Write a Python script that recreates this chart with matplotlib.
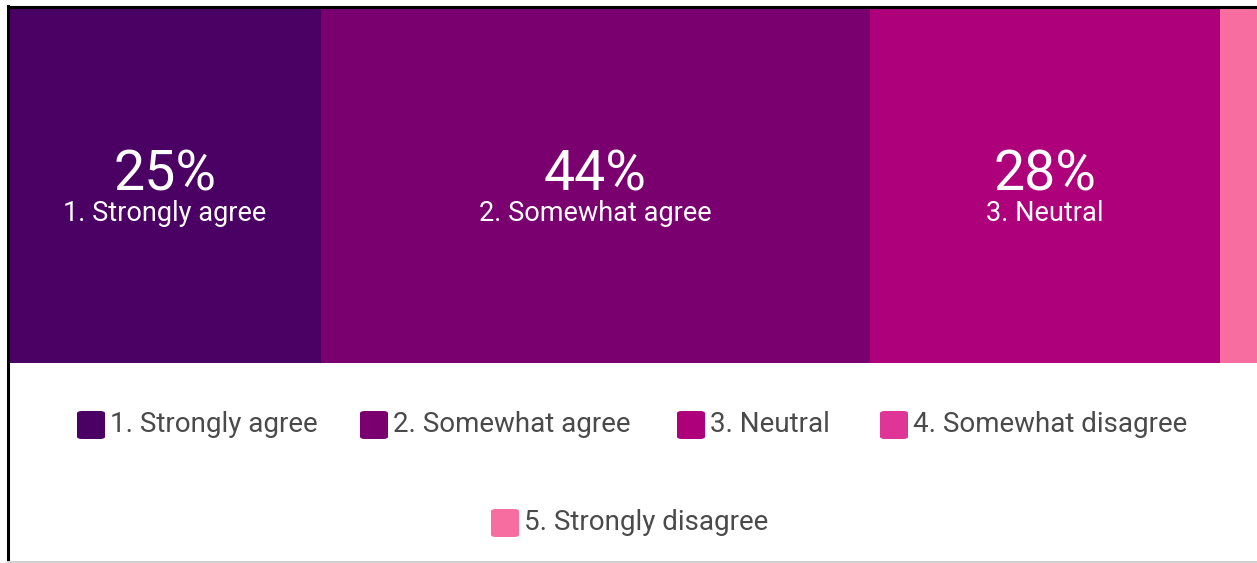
import matplotlib
matplotlib.use("Agg")
import matplotlib.pyplot as plt
from matplotlib.patches import FancyBboxPatch
from matplotlib.lines import Line2D

plt.rcParams['font.family'] = ['Roboto', 'DejaVu Sans']

# Survey response shares (percent)
categories = ["1. Strongly agree", "2. Somewhat agree", "3. Neutral",
              "4. Somewhat disagree", "5. Strongly disagree"]
values = [25, 44, 28, 0, 3]
colors = ["#4b0063", "#7a006f", "#ae007a", "#de3596", "#f76d9f"]

W, H = 1257, 563
fig = plt.figure(figsize=(W / 100, H / 100), dpi=100)
fig.patch.set_facecolor("white")


def fx(px):
    return px / W


def fy(py):
    return 1 - py / H


# stacked 100% bar
ax = fig.add_axes([fx(9), fy(363), fx(1257 - 9), (363 - 8) / H])
ax.set_xlim(0, 100)
ax.set_ylim(0, 1)
ax.axis("off")
left = 0
for cat, v, c in zip(categories, values, colors):
    ax.barh(0.5, v, left=left, height=1.0, color=c, edgecolor="none")
    if v >= 10:
        cx = left + v / 2
        ax.text(cx, 0.487, f"{v}%", ha="center", va="baseline",
                color="white", fontsize=40)
        ax.text(cx, 0.399, cat, ha="center", va="baseline",
                color="white", fontsize=19.5)
    left += v

# legend laid out in two centered rows
legend_rows = [
    [(0, 77), (1, 360), (2, 677), (3, 880)],
    [(4, 491)],
]
row_y = [425, 523]
sq = 28
for row, yc in zip(legend_rows, row_y):
    for idx, x0 in row:
        fig.patches.append(FancyBboxPatch(
            (fx(x0), fy(yc + sq / 2)), fx(sq), sq / H,
            boxstyle="round,pad=0,rounding_size=0.004",
            transform=fig.transFigure, facecolor=colors[idx],
            edgecolor="none"))
        fig.text(fx(x0 + sq + 5), fy(yc), categories[idx], ha="left",
                 va="center", color="#4a4a4a", fontsize=20)

# frame lines around the panel
fig.add_artist(Line2D([fx(8), fx(8)], [fy(6), fy(H)], color="black",
                      lw=2.2, transform=fig.transFigure))
fig.add_artist(Line2D([fx(8), fx(W)], [fy(6.5), fy(6.5)], color="black",
                      lw=2.2, transform=fig.transFigure))
fig.add_artist(Line2D([fx(8), fx(W)], [fy(561.5), fy(561.5)], color="#d0d0d0",
                      lw=1.5, transform=fig.transFigure))

fig.savefig("out.png", dpi=100, facecolor="white")
